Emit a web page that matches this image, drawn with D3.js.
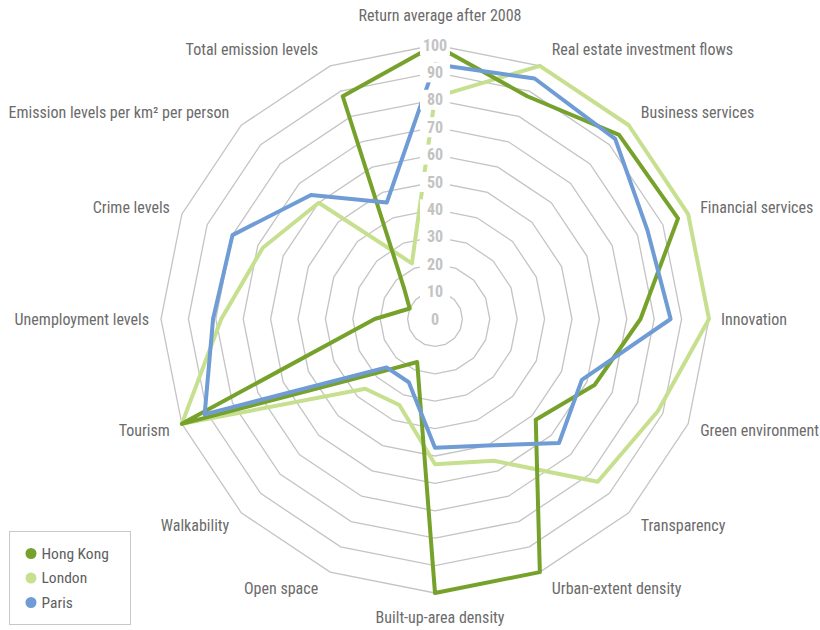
<!DOCTYPE html>
<html>
<head>
<meta charset="utf-8">
<script src="https://cdn.jsdelivr.net/npm/d3@7"></script>
<style>
  html, body { margin: 0; padding: 0; background: #fff; }
  svg { display: block; font-family: "Liberation Sans Narrow", "Roboto Condensed", "Arial Narrow", Roboto, sans-serif; }
</style>
</head>
<body>
<svg id="chart" width="820" height="630"></svg>
<script>
// Radar axes, clockwise from the top
const axes = [
  "Return average after 2008",
  "Real estate investment flows",
  "Business services",
  "Financial services",
  "Innovation",
  "Green environment",
  "Transparency",
  "Urban-extent density",
  "Built-up-area density",
  "Open space",
  "Walkability",
  "Tourism",
  "Unemployment levels",
  "Crime levels",
  "Emission levels per km² per person",
  "Total emission levels"
];

const hongKong = [100, 88, 95, 96, 75, 63, 52, 100, 100, 17, 27, 100, 22, 10, 16, 88];
const london   = [81, 100, 100, 100, 100, 88, 84, 56, 53, 34, 36, 100, 78, 68, 60, 22];
const paris    = [93, 95, 93, 84, 86, 58, 64, 50, 47, 25, 25, 91, 81, 80, 64, 46];

const seriesNames = ["Hong Kong", "London", "Paris"];
const seriesColors = ["#76a22c", "#c6e08f", "#6f9cd4"];
const tickValues = [0, 10, 20, 30, 40, 50, 60, 70, 80, 90, 100];

const svg = d3.select("#chart");
const cx = 435, cy = 319, R = 274;

const r = d3.scaleLinear().domain([0, 100]).range([0, R]);
const angle = d3.scaleLinear().domain([0, axes.length]).range([0, 2 * Math.PI]);

const g = svg.append("g").attr("transform", `translate(${cx},${cy})`);

// Concentric grid polygons
const ring = d3.lineRadial()
  .angle((d, i) => angle(i))
  .radius(d => r(d))
  .curve(d3.curveLinearClosed);

g.append("g").selectAll("path")
  .data(tickValues.filter(t => t > 0))
  .join("path")
  .attr("d", t => ring(axes.map(() => t)))
  .attr("fill", "none")
  .attr("stroke", "#c4c4c4")
  .attr("stroke-width", 1.3);

// Series polygons (London underneath, Paris on top)
const seriesData = [hongKong, london, paris];
const drawOrder = [1, 0, 2];
const line = d3.lineRadial()
  .angle((d, i) => angle(i))
  .radius(d => r(d))
  .curve(d3.curveLinearClosed);

g.append("g").selectAll("path")
  .data(drawOrder)
  .join("path")
  .attr("d", k => line(seriesData[k]))
  .attr("fill", "none")
  .attr("stroke", k => seriesColors[k])
  .attr("stroke-width", 4)
  .attr("stroke-linejoin", "round");

// Value labels along the top axis, knocked out of the grid
const tickG = g.append("g");
tickValues.forEach(t => {
  const y = -r(t);
  tickG.append("rect")
    .attr("x", -15).attr("y", y - 10)
    .attr("width", 30).attr("height", 20)
    .attr("fill", "#fff");
  tickG.append("text")
    .attr("x", 0).attr("y", y)
    .attr("text-anchor", "middle")
    .attr("dominant-baseline", "central")
    .attr("font-size", 16)
    .attr("font-weight", "bold")
    .attr("fill", "#c3c3c3")
    .text(t);
});

// Category labels around the outer ring
const labelG = g.append("g");
axes.forEach((name, i) => {
  const a = angle(i);
  const s = Math.sin(a), c = Math.cos(a);
  const vx = r(100) * s, vy = -r(100) * c;
  let x, y, anchor;
  if (Math.abs(s) < 0.01) {
    anchor = "middle";
    x = 5;
    y = c > 0 ? vy - 30 : vy + 24;
  } else {
    anchor = s > 0 ? "start" : "end";
    x = vx + (s > 0 ? 12 : -12);
    y = vy - c * 18;
  }
  labelG.append("text")
    .attr("x", x).attr("y", y)
    .attr("text-anchor", anchor)
    .attr("dominant-baseline", "central")
    .attr("font-size", 16)
    .attr("fill", "#6b6b6b")
    .text(name);
});

// Legend
const legend = svg.append("g").attr("transform", "translate(9.5,531.5)");
legend.append("rect")
  .attr("width", 121).attr("height", 93)
  .attr("fill", "#fff")
  .attr("stroke", "#c8c8c8")
  .attr("stroke-width", 1);
seriesNames.forEach((name, k) => {
  const row = legend.append("g").attr("transform", `translate(0,${22 + k * 24.5})`);
  row.append("circle")
    .attr("cx", 21.5).attr("cy", 0).attr("r", 5.5)
    .attr("fill", seriesColors[k]);
  row.append("text")
    .attr("x", 32).attr("y", 0)
    .attr("dominant-baseline", "central")
    .attr("font-size", 15.5)
    .attr("fill", "#5e5e5e")
    .text(name);
});
</script>
</body>
</html>
